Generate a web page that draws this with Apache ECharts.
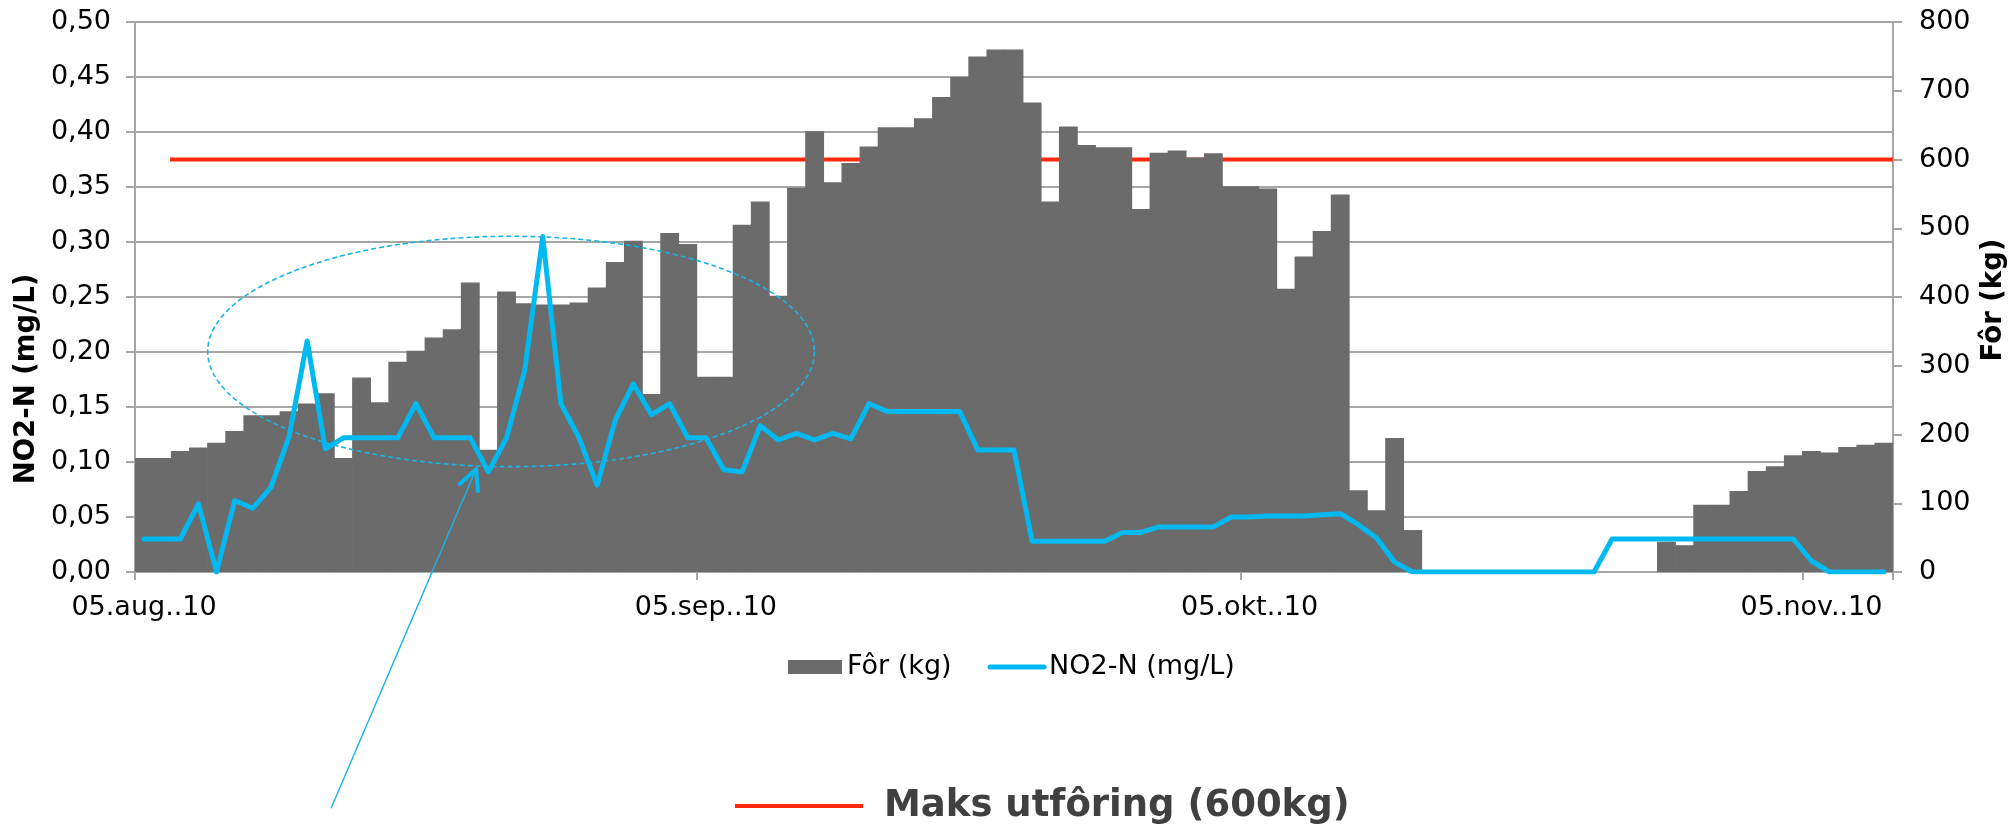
<!DOCTYPE html>
<html>
<head>
<meta charset="utf-8">
<script src="https://cdn.jsdelivr.net/npm/echarts@6/dist/echarts.min.js"></script>
<style>
  html, body { margin: 0; padding: 0; background: #fff; }
  #chart { width: 2011px; height: 836px; }
</style>
</head>
<body>
<div id="chart"></div>
<script>
// Daily feeding (kg) and nitrite (NO2-N, mg/L), 5 Aug 2010 - 9 Nov 2010
const firstDay = { year: 2010, month: 7, day: 5 };
const monthNames = ['jan', 'feb', 'mar', 'apr', 'mai', 'jun', 'jul', 'aug', 'sep', 'okt', 'nov', 'des'];
const tickLabels = ['05.aug..10', '05.sep..10', '05.okt..10', '05.nov..10'];

const feedKg = [
  166, 166, 176, 181, 188, 205, 228, 228, 234, 245,
  260, 166, 283, 247, 306, 322, 341, 353, 421, 178,
  408, 391, 389, 389, 392, 414, 451, 482, 259, 493,
  477, 284, 284, 505, 539, 402, 559, 641, 567, 595,
  619, 647, 647, 660, 691, 720, 750, 760, 760, 683,
  539, 648, 621, 618, 618, 528, 610, 613, 603, 609,
  561, 561, 558, 412, 459, 496, 549, 119, 90, 195,
  61, 0, 0, 0, 0, 0, 0, 0, 0, 0,
  0, 0, 0, 0, 44, 39, 98, 98, 118, 147,
  154, 170, 176, 174, 182, 185, 188
];

const no2 = [
  0.030, 0.030, 0.030, 0.062, 0.000, 0.065, 0.058, 0.077, 0.123, 0.210,
  0.112, 0.122, 0.122, 0.122, 0.122, 0.153, 0.122, 0.122, 0.122, 0.091,
  0.122, 0.183, 0.305, 0.153, 0.122, 0.079, 0.138, 0.171, 0.143, 0.153,
  0.122, 0.122, 0.093, 0.091, 0.133, 0.120, 0.126, 0.120, 0.126, 0.121,
  0.153, 0.146, 0.146, 0.146, 0.146, 0.146, 0.111, 0.111, 0.111, 0.028,
  0.028, 0.028, 0.028, 0.028, 0.036, 0.036, 0.041, 0.041, 0.041, 0.041,
  0.050, 0.050, 0.051, 0.051, 0.051, 0.052, 0.053, 0.043, 0.031, 0.009,
  0.000, 0.000, 0.000, 0.000, 0.000, 0.000, 0.000, 0.000, 0.000, 0.000,
  0.000, 0.030, 0.030, 0.030, 0.030, 0.030, 0.030, 0.030, 0.030, 0.030,
  0.030, 0.030, 0.010, 0.000, 0.000, 0.000, 0.000
];

// Maximum feeding level, drawn from day-slot 1.93 to the end of the period
const maxFeedKg = 600;
const maxFeedFrom = 1.93;

// Highlight ring and pointer, in day-slot / mg/L units
const ringCenter = [20.75, 0.2005];
const ringRadius = [16.74, 0.1047];
const pointerTail = [10.82, -0.2147];
const pointerTip = [18.82, 0.0935];

const pad2 = n => (n < 10 ? '0' : '') + n;
const categories = feedKg.map((_, i) => {
  const d = new Date(firstDay.year, firstDay.month, firstDay.day + i);
  return pad2(d.getDate()) + '.' + monthNames[d.getMonth()] + '..' + String(d.getFullYear()).slice(2);
});

const GRID = '#a6a6a6';
const FONT = 'DejaVu Sans';
const BAR = '#6b6b6b';
const BLUE = '#00b9f1';
const RED = '#ff2a0c';
const showTick = (idx, val) => tickLabels.indexOf(val) >= 0;

const chart = echarts.init(document.getElementById('chart'), null, { renderer: 'canvas' });

const option = {
  animation: false,
  backgroundColor: '#ffffff',
  textStyle: { fontFamily: FONT },
  grid: { left: 135, right: 118, top: 22, bottom: 264, containLabel: false, outerBoundsMode: 'none' },
  legend: [
    {
      data: [
        { name: 'Fôr (kg)', icon: 'rect' },
        { name: 'NO2-N (mg/L)', itemStyle: { opacity: 0 } }
      ],
      left: 788, top: 652, padding: 0,
      itemWidth: 54, itemHeight: 14, itemGap: 36,
      selectedMode: false,
      lineStyle: { width: 5, cap: 'round' },
      textStyle: { fontFamily: FONT, fontSize: 27, color: '#000', lineHeight: 30 }
    },
    {
      data: [{ name: 'Maks utfôring (600kg)', itemStyle: { opacity: 0 } }],
      left: 733, top: 774, padding: 0,
      itemWidth: 128, itemHeight: 6,
      selectedMode: false,
      lineStyle: { width: 4 },
      textStyle: {
        fontFamily: FONT, fontSize: 37, fontWeight: 'bold', color: '#404040',
        lineHeight: 44, padding: [20, 0, 0, 16]
      }
    }
  ],
  xAxis: [
    {
      type: 'category',
      data: categories,
      boundaryGap: true,
      axisLine: { show: true, lineStyle: { color: GRID, width: 2 } },
      axisTick: { show: true, interval: showTick, length: 8, alignWithLabel: false, lineStyle: { color: GRID, width: 2 } },
      axisLabel: { interval: showTick, margin: 22, fontSize: 27, color: '#000', fontFamily: FONT },
      splitLine: { show: false }
    },
    { type: 'value', min: 0, max: categories.length, show: false }
  ],
  yAxis: [
    {
      type: 'value', position: 'left', min: 0, max: 0.5, interval: 0.05,
      axisLine: { show: true, lineStyle: { color: GRID, width: 2 } },
      axisTick: { show: true, length: 9, lineStyle: { color: GRID, width: 2 } },
      axisLabel: {
        margin: 24, fontSize: 27, color: '#000', fontFamily: FONT,
        formatter: v => v.toFixed(2).replace('.', ',')
      },
      splitLine: { show: true, lineStyle: { color: GRID, width: 2 } }
    },
    {
      type: 'value', position: 'right', min: 0, max: 800, interval: 100,
      axisLine: { show: true, lineStyle: { color: GRID, width: 2 } },
      axisTick: { show: true, length: 9, lineStyle: { color: GRID, width: 2 } },
      axisLabel: { margin: 26, fontSize: 27, color: '#000', fontFamily: FONT },
      splitLine: { show: false }
    }
  ],
  series: [
    {
      name: 'Maks utfôring (600kg)',
      type: 'line',
      xAxisIndex: 1, yAxisIndex: 1,
      data: [[maxFeedFrom, maxFeedKg], [categories.length, maxFeedKg]],
      symbol: 'none',
      z: 1,
      lineStyle: { color: RED, width: 4 },
      itemStyle: { color: RED }
    },
    {
      name: 'Fôr (kg)',
      type: 'bar',
      xAxisIndex: 0, yAxisIndex: 1,
      data: feedKg,
      barWidth: '104%',
      barGap: '0%',
      z: 2,
      itemStyle: { color: BAR, borderWidth: 0 }
    },
    {
      name: 'NO2-N (mg/L)',
      type: 'line',
      xAxisIndex: 0, yAxisIndex: 0,
      data: no2,
      symbol: 'none',
      z: 4,
      lineStyle: { color: BLUE, width: 5, join: 'round', cap: 'round' },
      itemStyle: { color: BLUE }
    }
  ]
};

chart.setOption(option);

// Annotations placed in data space (day slots on the hidden value axis, mg/L on the left axis)
const toPx = p => chart.convertToPixel({ xAxisIndex: 1, yAxisIndex: 0 }, p);

const c = toPx(ringCenter);
const cx1 = toPx([ringCenter[0] + ringRadius[0], ringCenter[1]]);
const cy1 = toPx([ringCenter[0], ringCenter[1] + ringRadius[1]]);
const rx = cx1[0] - c[0];
const ry = c[1] - cy1[1];
const ringPts = [];
for (let k = 0; k <= 240; k++) {
  const t = (k / 240) * Math.PI * 2;
  ringPts.push([c[0] + rx * Math.cos(t), c[1] + ry * Math.sin(t)]);
}

const tail = toPx(pointerTail);
const tip = toPx(pointerTip);
const back = Math.atan2(tail[1] - tip[1], tail[0] - tip[0]);
const headLen = 22;
const arm1 = [tip[0] + headLen * Math.cos(back + 0.43), tip[1] + headLen * Math.sin(back + 0.43)];
const arm2 = [tip[0] + headLen * Math.cos(back - 0.49), tip[1] + headLen * Math.sin(back - 0.49)];

chart.setOption({
  graphic: [
    {
      id: 'ring', type: 'polyline', z: 50, silent: true,
      shape: { points: ringPts },
      style: { fill: null, stroke: '#1ab4e3', lineWidth: 1.6, lineDash: [5, 3] }
    },
    {
      id: 'pointer', type: 'line', z: 50, silent: true,
      shape: { x1: tail[0], y1: tail[1], x2: tip[0], y2: tip[1] },
      style: { stroke: '#1ab4e3', lineWidth: 1.4 }
    },
    {
      id: 'pointerHead', type: 'polyline', z: 51, silent: true,
      shape: { points: [arm1, tip, arm2] },
      style: { fill: null, stroke: BLUE, lineWidth: 4, lineJoin: 'round', lineCap: 'round' }
    },
    {
      id: 'leftTitle', type: 'text', x: 26.5, y: 379, rotation: Math.PI / 2, silent: true,
      style: {
        text: 'NO2-N (mg/L)', fontFamily: FONT, fontSize: 27.5, fontWeight: 'bold',
        fill: '#000', align: 'center', verticalAlign: 'middle'
      }
    },
    {
      id: 'rightTitle', type: 'text', x: 1994, y: 300, rotation: Math.PI / 2, silent: true,
      style: {
        text: 'Fôr (kg)', fontFamily: FONT, fontSize: 27.5, fontWeight: 'bold',
        fill: '#000', align: 'center', verticalAlign: 'middle'
      }
    }
  ]
});
</script>
</body>
</html>
